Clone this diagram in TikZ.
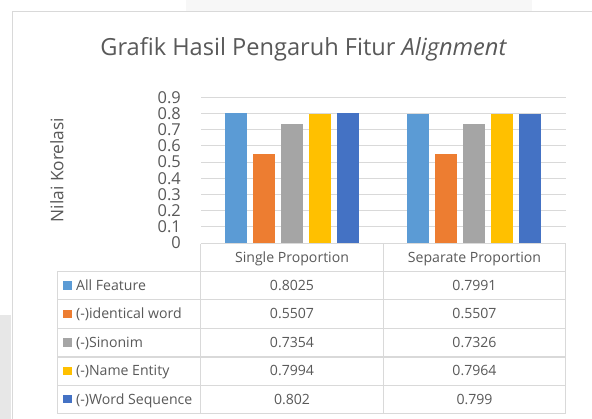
\documentclass[tikz,border=0pt]{standalone}
\usepackage{fontspec}
\setmainfont{Open Sans}
\definecolor{txt}{HTML}{595959}
\definecolor{grid}{HTML}{D9D9D9}
\definecolor{tline}{HTML}{D9D9D9}
\definecolor{cA}{HTML}{5B9BD5}
\definecolor{cB}{HTML}{ED7D31}
\definecolor{cC}{HTML}{A5A5A5}
\definecolor{cD}{HTML}{FFC000}
\definecolor{cE}{HTML}{4472C4}
\definecolor{bgtop}{HTML}{F7F7F7}
\definecolor{bgleft}{HTML}{E7E7E7}
\begin{document}
\begin{tikzpicture}[x=1pt,y=-1pt,
  ticklbl/.style={anchor=east,inner sep=0pt,text=txt,font=\fontsize{16.4}{17}\selectfont},
  celltxt/.style={anchor=base,inner sep=0pt,text=txt,font=\fontsize{14.1}{15}\selectfont},
  legtxt/.style={anchor=base west,inner sep=0pt,text=txt,font=\fontsize{14.1}{15}\selectfont},
  gridline/.style={draw=grid,line width=1pt},
  tableline/.style={draw=tline,line width=1.3pt}]
\useasboundingbox (0,0) rectangle (592,419);
\fill[white] (0,0) rectangle (592,419);
% page backgrounds
\fill[bgtop] (186,0) rectangle (532,11.3);
\fill[bgleft] (0,315) rectangle (11.3,419);
% chart border
\draw[draw=grid,line width=1pt] (12,419) -- (12,12) -- (592,12);
% title
\node[anchor=base,inner sep=0pt,text=txt,font=\fontsize{23.6}{24}\selectfont] (title) at (303.7,56) {Grafik Hasil Pengaruh Fitur \textit{Alignment}};
% axis title
\node[rotate=90,inner sep=0pt,text=txt,font=\fontsize{17.3}{18}\selectfont] (ytitle) at (57,170) {Nilai Korelasi};
% gridlines and tick labels
\foreach \v in {1,...,9}{
  \draw[gridline] (201,{243-16.19*\v}) -- (566,{243-16.19*\v});
}
\foreach \v/\l in {0/0,1/0.1,2/0.2,3/0.3,4/0.4,5/0.5,6/0.6,7/0.7,8/0.8,9/0.9}{
  \node[ticklbl] (t\v) at (181,{243-16.19*\v}) {\l};
}
% bars
\foreach \x/\val/\c in {225/0.8025/cA,253/0.5507/cB,281/0.7354/cC,309/0.7994/cD,337/0.802/cE,
                        407.3/0.7991/cA,435.3/0.5507/cB,463.3/0.7326/cC,491.3/0.7964/cD,519.3/0.799/cE}{
  \fill[\c] (\x,243) rectangle ({\x+22},{243-161.9*\val});
}
% table lines
\draw[tableline] (200.7,243.8) -- (565.7,243.8);
\foreach \yy in {271.3,299.7,328.3,357,385.3,413.3}{
  \draw[tableline] (57.3,\yy) -- (565.7,\yy);
}
\draw[tableline] (57.3,271.3) -- (57.3,413.3);
\draw[tableline] (200.7,243.8) -- (200.7,413.3);
\draw[tableline] (383.2,243.8) -- (383.2,413.3);
\draw[tableline] (565.7,243.8) -- (565.7,413.3);
% header
\node[celltxt] (h1) at (292,262.7) {Single Proportion};
\node[celltxt] (h2) at (474.5,262.7) {Separate Proportion};
% rows
\foreach \r/\ya/\c/\name/\a/\b in {1/285.5/cA/All Feature/0.8025/0.7991,
                              2/314/cB/(-)identical word/0.5507/0.5507,
                              3/342.6/cC/(-)Sinonim/0.7354/0.7326,
                              4/371.2/cD/(-)Name Entity/0.7994/0.7964,
                              5/399.3/cE/(-)Word Sequence/0.802/0.799}{
  \fill[\c] (63.3,{\ya-4.2}) rectangle (71.7,{\ya+4.2});
  \node[legtxt] (l\r) at (76,{\ya+4.8}) {\name};
  \node[celltxt] (a\r) at (292,{\ya+4.8}) {\a};
  \node[celltxt] (b\r) at (474.5,{\ya+4.8}) {\b};
}
\end{tikzpicture}
\end{document}
